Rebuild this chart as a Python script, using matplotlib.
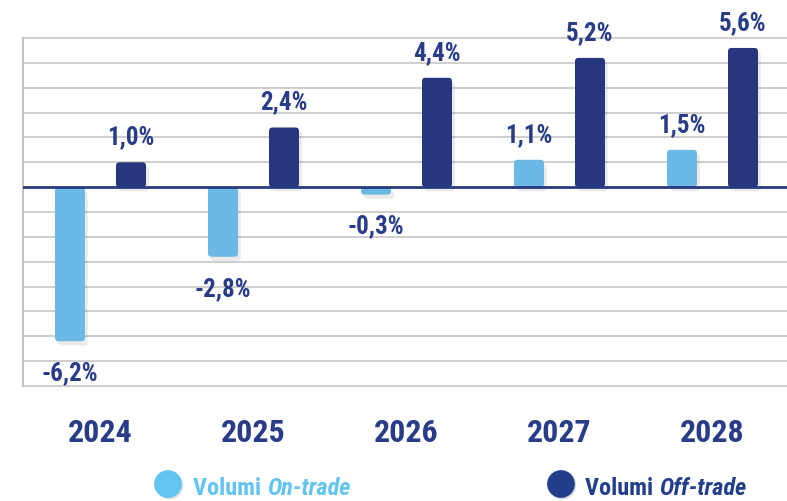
import matplotlib
matplotlib.use("Agg")
import matplotlib.pyplot as plt
from matplotlib.patches import FancyBboxPatch
from matplotlib.lines import Line2D
import matplotlib.patheffects as pe

years = ["2024", "2025", "2026", "2027", "2028"]
on_trade = [-6.2, -2.8, -0.3, 1.1, 1.5]
off_trade = [1.0, 2.4, 4.4, 5.2, 5.6]
on_labels = ["-6,2%", "-2,8%", "-0,3%", "1,1%", "1,5%"]
off_labels = ["1,0%", "2,4%", "4,4%", "5,2%", "5,6%"]
legend_names = ["On-trade", "Off-trade"]

FONT = ["Roboto Condensed", "DejaVu Sans"]
NAVY_TXT = "#283C88"
ON_COL = "#6DB9E6"
OFF_COL = "#27377F"
LEG_ON = "#63C4F1"
LEG_OFF = "#233F8B"

W, H = 787, 502
fig = plt.figure(figsize=(W / 100, H / 100), dpi=100)
ax = fig.add_axes([23 / W, 115 / H, 764 / W, 348 / H])

px_per_x = 153.0
ax.set_xlim(-(100.5 - 23) / px_per_x, (787 - 100.5) / px_per_x)
ax.set_ylim(-8, 6)

for yv in range(-8, 7):
    if yv != 0:
        ax.axhline(yv, color="#C6C6C6", lw=1.2, zorder=1, clip_on=False)

bw = 30 / px_per_x
off = 30.5 / px_per_x
xs = list(range(len(years)))

px_per_y = 348 / 14.0
aspect = px_per_x / px_per_y
shadow = [pe.SimplePatchShadow(offset=(2, -3), shadow_rgbFace="k", alpha=0.08), pe.Normal()]

def rounded_bars(positions, values, color):
    bars = ax.bar(positions, values, width=bw, color=color, zorder=2)
    for b in bars:
        x0, y0 = b.get_x(), b.get_y()
        w, h = b.get_width(), b.get_height()
        if h < 0:
            y0, h = y0 + h, -h
        b.set_visible(False)
        r = min(3.5 / px_per_x, w / 2)
        p = FancyBboxPatch((x0, y0), w, h,
                           boxstyle=f"round,pad=0,rounding_size={r}",
                           mutation_aspect=aspect,
                           fc=color, ec="none", zorder=2)
        p.set_path_effects(shadow)
        ax.add_patch(p)
    return bars

rounded_bars([x - off for x in xs], on_trade, ON_COL)
rounded_bars([x + off for x in xs], off_trade, OFF_COL)

ax.axhline(0, color="#263A80", lw=2.0, zorder=4)

def label(x, v, s):
    dy = 19 if v >= 0 else -38
    ax.annotate(s, (x, v), xytext=(0, dy), textcoords="offset pixels",
                ha="center", va="baseline", fontsize=18, fontweight="bold",
                color=NAVY_TXT, family=FONT, zorder=5)

for x, v, s in zip(xs, on_trade, on_labels):
    label(x - off, v, s)
for x, v, s in zip(xs, off_trade, off_labels):
    label(x + off, v, s)

tr = ax.get_xaxis_transform()
for x, yr in zip(xs, years):
    ax.text(x, (387 - 442) / 348, yr, transform=tr, ha="center", va="baseline",
            fontsize=23, fontweight="bold", color=NAVY_TXT, family=FONT)

ax.set_xticks([])
ax.set_yticks([])
for s in ["top", "right", "bottom"]:
    ax.spines[s].set_visible(False)
ax.spines["left"].set_color("#B8B8B8")
ax.spines["left"].set_linewidth(1.2)

# legend
items = [(168, 193, LEG_ON, legend_names[0]), (561, 585, LEG_OFF, legend_names[1])]
for cx, tx, col, name in items:
    m = Line2D([cx / W], [(H - 485) / H], marker="o", markersize=20, color=col,
               markeredgecolor="none", linestyle="none", transform=fig.transFigure)
    m.set_path_effects([pe.SimplePatchShadow(offset=(1, -1), alpha=0.15), pe.Normal()])
    fig.add_artist(m)
    t1 = fig.text(tx / W, 7 / H, "Volumi ", ha="left", va="baseline", fontsize=17.5,
                  fontweight="bold", color=col, family=FONT)
    ax.annotate(name, xy=(1, 0), xycoords=t1, ha="left", va="bottom", fontsize=17.5,
                fontweight="bold", fontstyle="italic", color=col, family=FONT,
                annotation_clip=False)

fig.savefig("out.png", dpi=100)
